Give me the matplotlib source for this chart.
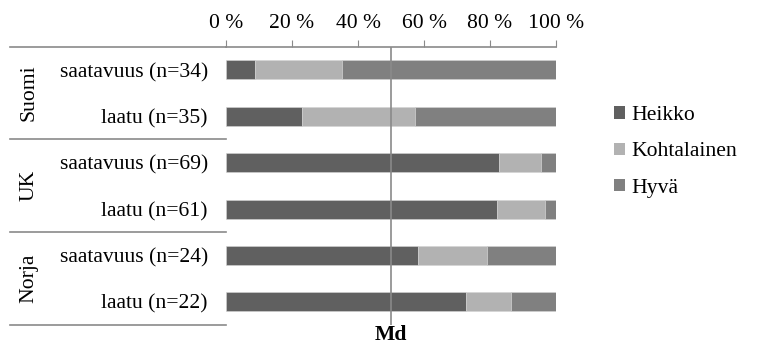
import matplotlib
matplotlib.use("Agg")
import matplotlib.pyplot as plt
from matplotlib.patches import Patch

# data (percent of respondents)
groups = ["Suomi", "UK", "Norja"]
row_labels = [
    "saatavuus (n=34)", "laatu (n=35)",
    "saatavuus (n=69)", "laatu (n=61)",
    "saatavuus (n=24)", "laatu (n=22)",
]
heikko = [8.8, 22.9, 82.6, 82.0, 58.3, 72.7]
kohtalainen = [26.5, 34.3, 13.0, 14.8, 20.8, 13.6]
hyva = [64.7, 42.8, 4.4, 3.2, 20.9, 13.7]
series_names = ["Heikko", "Kohtalainen", "Hyvä"]
ticks = [0, 20, 40, 60, 80, 100]
median_at = 50

colors = ["#606060", "#b2b2b2", "#808080"]
line_gray = "#8a8a8a"

plt.rcParams["font.family"] = ["Liberation Serif", "DejaVu Serif"]
fs = 15.6

fig = plt.figure(figsize=(7.6, 3.56), dpi=100)
W, H = 760, 356
ax_left, ax_right, ax_top, ax_bot = 226, 556, 46.7, 325
ax = fig.add_axes([ax_left / W, 1 - ax_bot / H, (ax_right - ax_left) / W, (ax_bot - ax_top) / H])

ypos = list(range(len(row_labels)))
left = [0] * len(row_labels)
for vals, col in zip([heikko, kohtalainen, hyva], colors):
    ax.barh(ypos, vals, left=left, height=0.41, color=col, edgecolor="#d4d4d4", linewidth=0.4)
    left = [a + b for a, b in zip(left, vals)]

ax.set_xlim(0, 100)
ax.set_ylim(len(row_labels) - 0.5, -0.5)
ax.axvline(median_at, color=line_gray, linewidth=1.2, zorder=5)

ax.xaxis.tick_top()
ax.set_xticks(ticks)
ax.set_xticklabels([f"{t} %" for t in ticks], fontsize=fs)
ax.tick_params(axis="x", direction="out", length=5, color=line_gray, pad=5)
ax.set_yticks(ypos)
ax.set_yticklabels(row_labels, fontsize=fs)
ax.tick_params(axis="y", length=0, pad=13)
for side in ["left", "right", "bottom"]:
    ax.spines[side].set_visible(False)
ax.spines["top"].set_color(line_gray)
ax.spines["top"].set_linewidth(1.2)

# group separators and rotated group labels
x_start = (10 - ax_left) / (ax_right - ax_left)
for k in range(len(groups) + 1):
    y = 2 * k - 0.5
    ax.plot([x_start, 0], [y, y], transform=ax.get_yaxis_transform(), color=line_gray,
            linewidth=1.2, clip_on=False)
for k, g in enumerate(groups):
    ax.text((29 - ax_left) / (ax_right - ax_left), 2 * k + 0.5, g, rotation=90, ha="center",
            va="center", fontsize=fs, transform=ax.get_yaxis_transform())

ax.text(median_at, len(row_labels) - 0.5, "Md", ha="center", va="top", fontsize=fs,
        fontweight="bold", transform=ax.transData, clip_on=False)

handles = [Patch(facecolor=c, edgecolor="none") for c in colors]
fig.legend(handles, series_names, loc="center left", bbox_to_anchor=(614 / W, 1 - 152 / H),
           frameon=False, fontsize=fs, handlelength=0.5, handleheight=0.5,
           handletextpad=0.3, labelspacing=0.8, borderaxespad=0, borderpad=0)

fig.savefig("out.png", dpi=100)
